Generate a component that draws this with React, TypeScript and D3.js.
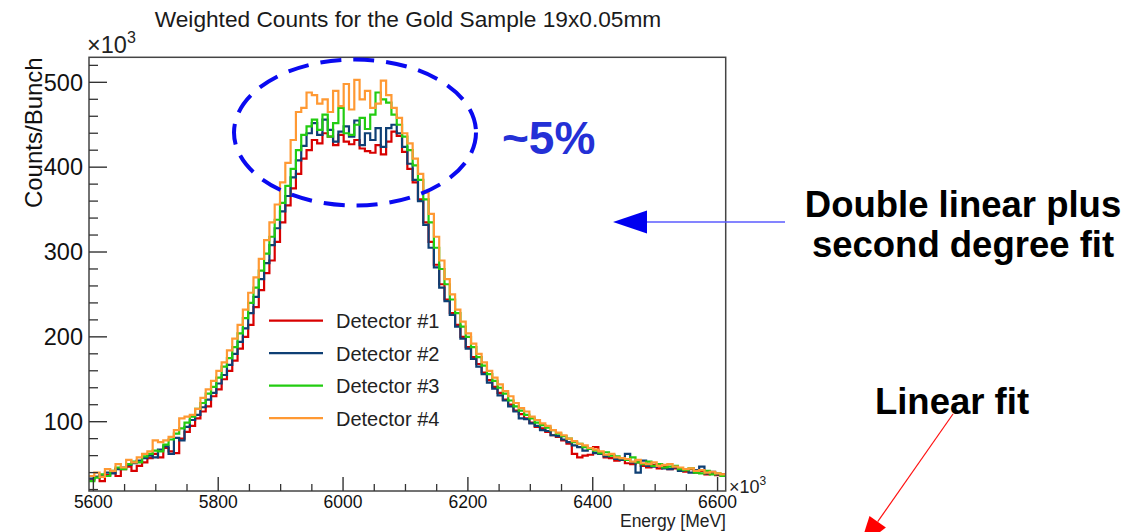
import React from 'react';
import * as d3 from 'd3';

// Histogram binning (MeV)
const X_MIN = 5593;
const X_MAX = 6613;
const BIN_WIDTH = 8.5;
// Vertical range, in units of 10^3 counts
const Y_MIN = 18.3;
const Y_MAX = 529.5;

const TITLE = 'Weighted Counts for the Gold Sample 19x0.05mm';
const X_TITLE = 'Energy [MeV]';
const Y_TITLE = 'Counts/Bunch';

const xMajorTicks = [5600, 5800, 6000, 6200, 6400, 6600];
const yMajorTicks = [100, 200, 300, 400, 500];

const detectorNames = ['Detector #1', 'Detector #2', 'Detector #3', 'Detector #4'];
const detectorColors = ['#d80000', '#0e3f74', '#22cc11', '#ff9933'];

// Weighted counts per bin (x10^3), 120 bins of 8.5 MeV
const detector1 = [
  31, 35, 30, 37, 41, 36, 44, 47, 42, 48,
  52, 57, 62, 58, 69, 65, 63, 80, 88, 95,
  104, 112, 118, 130, 138, 150, 160, 172, 186, 200,
  214, 235, 255, 275, 290, 312, 335, 355, 375, 392,
  410, 420, 432, 428, 440, 436, 426, 438, 430, 427,
  432, 422, 419, 417, 426, 415, 430, 442, 437, 418,
  398, 382, 362, 335, 312, 285, 262, 244, 228, 214,
  200, 188, 176, 168, 158, 149, 141, 134, 126, 120,
  113, 109, 104, 99, 94, 92, 88, 84, 82, 78,
  74, 62, 58, 60, 61, 70, 62, 58, 57, 54,
  55, 51, 50, 52, 48, 46, 49, 45, 47, 44,
  45, 43, 41, 44, 40, 42, 38, 40, 37, 38,
];

const detector2 = [
  33, 35, 37, 40, 39, 44, 46, 49, 51, 54,
  57, 60, 58, 67, 71, 62, 81, 78, 94, 102,
  108, 117, 126, 134, 145, 155, 167, 180, 194, 210,
  228, 247, 268, 287, 308, 328, 348, 366, 388, 408,
  425, 440, 452, 438, 456, 444, 430, 442, 448, 436,
  455, 426, 440, 432, 446, 424, 446, 450, 440, 424,
  404, 385, 360, 332, 305, 282, 258, 242, 226, 212,
  198, 186, 174, 165, 156, 146, 139, 131, 125, 118,
  112, 104, 103, 98, 95, 90, 89, 84, 83, 79,
  76, 72, 70, 66, 68, 63, 62, 59, 61, 56,
  55, 62, 52, 40, 54, 48, 47, 50, 45, 44,
  46, 42, 44, 40, 43, 47, 39, 41, 38, 37,
];

const detector3 = [
  30, 34, 38, 36, 42, 46, 44, 50, 53, 52,
  59, 62, 66, 65, 73, 79, 86, 92, 99, 106,
  115, 122, 133, 141, 152, 165, 175, 188, 204, 222,
  240, 258, 278, 298, 318, 338, 358, 378, 398, 420,
  438, 448, 456, 444, 462, 436, 452, 470, 440, 438,
  450, 458, 445, 462, 488, 480, 476, 462, 450, 436,
  420, 402, 385, 362, 335, 305, 280, 262, 244, 228,
  212, 200, 188, 176, 166, 156, 148, 140, 133, 125,
  118, 113, 108, 104, 99, 96, 93, 90, 86, 83,
  80, 76, 74, 70, 68, 66, 63, 64, 60, 59,
  57, 55, 58, 52, 50, 53, 48, 50, 46, 47,
  48, 44, 43, 45, 40, 39, 42, 38, 39, 36,
];

const detector4 = [
  36, 40, 35, 44, 42, 50, 46, 55, 52, 58,
  62, 65, 78, 76, 78, 82, 90, 104, 106, 108,
  115, 128, 138, 148, 160, 170, 184, 198, 214, 232,
  252, 270, 292, 314, 335, 356, 382, 405, 432, 465,
  470, 488, 485, 475, 480, 465, 490, 472, 498, 468,
  503, 480, 490, 470, 475, 502, 485, 470, 458, 440,
  428, 410, 392, 370, 345, 318, 290, 268, 250, 232,
  218, 204, 192, 180, 170, 160, 152, 144, 136, 130,
  122, 116, 112, 106, 102, 98, 95, 90, 87, 84,
  80, 77, 74, 72, 69, 67, 65, 61, 62, 58,
  57, 56, 53, 55, 51, 50, 52, 48, 49, 50,
  47, 46, 44, 45, 42, 43, 40, 41, 39, 38,
];

const detectorSeries = [detector1, detector2, detector3, detector4];

// Frame geometry
const W = 1130;
const H = 532;
const FL = 89;
const FR = 725.7;
const FT = 57.3;
const FB = 491;

const FONT = "'Liberation Sans', Arial, Helvetica, sans-serif";

export default function App() {
  const x = d3.scaleLinear().domain([X_MIN, X_MAX]).range([FL, FR]);
  const y = d3.scaleLinear().domain([Y_MIN, Y_MAX]).range([FB, FT]);

  const xMinor = d3.range(5600, 6601, 50).filter((v) => !xMajorTicks.includes(v));
  const yMinor = d3.range(20, 521, 20).filter((v) => !yMajorTicks.includes(v));

  const stepLine = d3
    .line<[number, number]>()
    .x((d) => x(d[0]))
    .y((d) => y(d[1]))
    .curve(d3.curveStepAfter);

  const histPath = (vals: number[]) => {
    const pts: [number, number][] = vals.map((v, i) => [X_MIN + i * BIN_WIDTH, v]);
    pts.push([X_MIN + vals.length * BIN_WIDTH, vals[vals.length - 1]]);
    return stepLine(pts) || '';
  };

  const legendX0 = 269;
  const legendX1 = 323;
  const legendY0 = 320.7;
  const legendDy = 32.5;

  // red arrow geometry
  const rA = { x1: 953, y1: 414, x2: 877.7, y2: 521.7 };
  const rdx = rA.x2 - rA.x1;
  const rdy = rA.y2 - rA.y1;
  const rl = Math.hypot(rdx, rdy);
  const ux = rdx / rl;
  const uy = rdy / rl;
  const tip = [rA.x2 + ux * 32, rA.y2 + uy * 32];
  const b1 = [rA.x2 - uy * 10, rA.y2 + ux * 10];
  const b2 = [rA.x2 + uy * 10, rA.y2 - ux * 10];

  return (
    <svg
      width={W}
      height={H}
      style={{ position: 'absolute', left: 0, top: 0, background: '#fff', fontFamily: FONT }}
    >
      <defs>
        <clipPath id="frameClip">
          <rect x={FL} y={FT} width={FR - FL} height={FB - FT} />
        </clipPath>
      </defs>
      <rect x={0} y={0} width={W} height={H} fill="#fff" />

      {/* title */}
      <text x={408} y={27} textAnchor="middle" fontSize={22.7} fill="#1a1a1a">
        {TITLE}
      </text>

      {/* histograms */}
      <g clipPath="url(#frameClip)">
        {detectorSeries.map((vals, k) => (
          <path
            key={k}
            d={histPath(vals)}
            fill="none"
            stroke={detectorColors[k]}
            strokeWidth={2.2}
            strokeLinejoin="miter"
          />
        ))}
      </g>

      {/* frame */}
      <rect x={FL} y={FT} width={FR - FL} height={FB - FT} fill="none" stroke="#444" strokeWidth={1.5} />

      {/* x ticks */}
      {xMajorTicks.map((t) => (
        <g key={'xM' + t}>
          <line x1={x(t)} x2={x(t)} y1={FB} y2={FB - 14} stroke="#333" strokeWidth={1.4} />
          <text x={x(t)} y={508.3} textAnchor="middle" fontSize={17.5} fill="#111">
            {t}
          </text>
        </g>
      ))}
      {xMinor.map((t) => (
        <line key={'xm' + t} x1={x(t)} x2={x(t)} y1={FB} y2={FB - 7} stroke="#333" strokeWidth={1.3} />
      ))}
      <text x={729} y={493} fontSize={18} fill="#222">
        ×10
        <tspan dy={-8} fontSize={12}>3</tspan>
      </text>
      <text x={726} y={526.5} textAnchor="end" fontSize={17.5} fill="#222">
        {X_TITLE}
      </text>

      {/* y ticks */}
      {yMajorTicks.map((t) => (
        <g key={'yM' + t}>
          <line x1={FL} x2={FL + 18} y1={y(t)} y2={y(t)} stroke="#333" strokeWidth={1.4} />
          <text x={83} y={y(t) + 8.3} textAnchor="end" fontSize={23.5} fill="#111">
            {t}
          </text>
        </g>
      ))}
      {yMinor.map((t) => (
        <line key={'ym' + t} x1={FL} x2={FL + 9} y1={y(t)} y2={y(t)} stroke="#333" strokeWidth={1.3} />
      ))}
      <text x={87} y={53} fontSize={23.5} fill="#222">
        ×10
        <tspan dy={-10} fontSize={16}>3</tspan>
      </text>
      <text
        transform={`translate(42,${FT}) rotate(-90)`}
        textAnchor="end"
        fontSize={24}
        fill="#111"
      >
        {Y_TITLE}
      </text>

      {/* legend */}
      {detectorNames.map((name, k) => (
        <g key={name}>
          <line
            x1={legendX0}
            x2={legendX1}
            y1={legendY0 + k * legendDy}
            y2={legendY0 + k * legendDy}
            stroke={detectorColors[k]}
            strokeWidth={2.2}
          />
          <text x={336} y={legendY0 + k * legendDy + 7.3} fontSize={20} fill="#222">
            {name}
          </text>
        </g>
      ))}

      {/* peak annotation */}
      <ellipse
        cx={355}
        cy={132.5}
        rx={121}
        ry={73}
        fill="none"
        stroke="#0a0af0"
        strokeWidth={4}
        strokeDasharray="21 12"
      />
      <text x={502} y={154} fontSize={46} fontWeight="bold" fill="#2430d6">
        ~5%
      </text>

      {/* right-hand notes */}
      <line x1={785} y1={222} x2={646} y2={222} stroke="#5b5bff" strokeWidth={1.5} />
      <polygon points="613,222 647,210.6 647,233.4" fill="#0000f0" />
      <text x={963} y={217} textAnchor="middle" fontSize={36.5} fontWeight="bold" fill="#000">
        Double linear plus
      </text>
      <text x={963} y={257} textAnchor="middle" fontSize={36.5} fontWeight="bold" fill="#000">
        second degree fit
      </text>

      <text x={952} y={414} textAnchor="middle" fontSize={36.5} fontWeight="bold" fill="#000">
        Linear fit
      </text>
      <line x1={rA.x1} y1={rA.y1} x2={rA.x2} y2={rA.y2} stroke="#ff1010" strokeWidth={1.2} />
      <polygon points={`${tip[0]},${tip[1]} ${b1[0]},${b1[1]} ${b2[0]},${b2[1]}`} fill="#ff0000" />
    </svg>
  );
}
